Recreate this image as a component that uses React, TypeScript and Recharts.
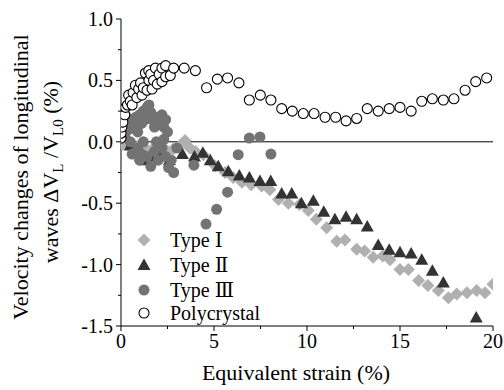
import React from 'react';
import { ScatterChart, Scatter, XAxis, YAxis, ReferenceLine } from 'recharts';

const typeI = [
  { x: 0.1, y: -0.02 }, { x: 0.3, y: 0.0 }, { x: 0.5, y: -0.03 }, { x: 0.7, y: -0.05 },
  { x: 0.9, y: -0.04 }, { x: 1.1, y: -0.06 }, { x: 1.3, y: -0.05 }, { x: 1.5, y: -0.08 },
  { x: 1.7, y: -0.06 }, { x: 1.9, y: -0.04 }, { x: 2.1, y: -0.07 }, { x: 2.3, y: -0.05 },
  { x: 2.5, y: -0.08 }, { x: 2.8, y: -0.06 }, { x: 3.1, y: -0.04 }, { x: 3.44, y: 0.01 },
  { x: 3.7, y: -0.05 }, { x: 4.0, y: -0.08 }, { x: 4.43, y: -0.105 }, { x: 5.05, y: -0.195 },
  { x: 5.6, y: -0.25 }, { x: 6.03, y: -0.29 }, { x: 6.5, y: -0.33 }, { x: 7.0, y: -0.35 },
  { x: 7.56, y: -0.36 }, { x: 8.0, y: -0.39 }, { x: 8.46, y: -0.47 }, { x: 9.0, y: -0.5 },
  { x: 9.6, y: -0.51 }, { x: 10.07, y: -0.56 }, { x: 10.5, y: -0.63 }, { x: 11.06, y: -0.7 },
  { x: 11.6, y: -0.81 }, { x: 12.04, y: -0.8 }, { x: 12.67, y: -0.875 }, { x: 13.1, y: -0.89 },
  { x: 13.56, y: -0.94 }, { x: 14.07, y: -0.93 }, { x: 14.46, y: -0.96 }, { x: 15.0, y: -1.04 },
  { x: 15.45, y: -1.04 }, { x: 16.0, y: -1.13 }, { x: 16.5, y: -1.17 }, { x: 17.06, y: -1.21 },
  { x: 17.6, y: -1.27 }, { x: 18.05, y: -1.24 }, { x: 18.6, y: -1.23 }, { x: 19.12, y: -1.21 },
  { x: 19.57, y: -1.23 }, { x: 20.0, y: -1.16 },
];

const typeII = [
  { x: 0.5, y: -0.03 }, { x: 1.0, y: -0.08 }, { x: 1.3, y: -0.15 }, { x: 1.6, y: -0.12 },
  { x: 2.0, y: -0.1 }, { x: 2.6, y: -0.15 }, { x: 3.3, y: -0.1 }, { x: 3.95, y: -0.12 },
  { x: 4.4, y: -0.09 }, { x: 4.8, y: -0.15 }, { x: 5.23, y: -0.2 }, { x: 5.77, y: -0.24 },
  { x: 6.36, y: -0.275 }, { x: 6.9, y: -0.29 }, { x: 7.47, y: -0.32 }, { x: 8.05, y: -0.32 },
  { x: 8.64, y: -0.42 }, { x: 9.18, y: -0.42 }, { x: 9.7, y: -0.5 }, { x: 10.34, y: -0.48 },
  { x: 10.9, y: -0.57 }, { x: 11.5, y: -0.63 }, { x: 12.1, y: -0.61 }, { x: 12.67, y: -0.63 },
  { x: 13.24, y: -0.69 }, { x: 13.83, y: -0.84 }, { x: 14.42, y: -0.88 }, { x: 15.0, y: -0.9 },
  { x: 15.6, y: -0.91 }, { x: 16.17, y: -0.96 }, { x: 16.74, y: -1.05 }, { x: 17.33, y: -1.145 },
  { x: 19.1, y: -1.43 },
];

const typeIII = [
  { x: 0.2, y: 0.15 }, { x: 0.2, y: 0.05 }, { x: 0.3, y: 0.2 }, { x: 0.4, y: 0.1 },
  { x: 0.5, y: 0.18 }, { x: 0.5, y: 0.0 }, { x: 0.7, y: 0.12 }, { x: 0.8, y: 0.2 },
  { x: 0.9, y: 0.08 }, { x: 1.0, y: 0.22 }, { x: 1.1, y: 0.15 }, { x: 1.2, y: 0.25 },
  { x: 1.3, y: 0.18 }, { x: 1.4, y: 0.28 }, { x: 1.5, y: 0.3 }, { x: 1.6, y: 0.24 },
  { x: 1.7, y: 0.18 }, { x: 1.8, y: 0.12 }, { x: 1.9, y: 0.2 }, { x: 2.0, y: 0.15 },
  { x: 2.2, y: 0.22 }, { x: 2.3, y: 0.12 }, { x: 2.4, y: 0.18 }, { x: 2.5, y: 0.08 },
  { x: 2.3, y: 0.02 }, { x: 1.9, y: 0.0 }, { x: 1.2, y: 0.0 }, { x: 0.9, y: -0.05 },
  { x: 1.1, y: -0.1 }, { x: 1.4, y: -0.12 }, { x: 1.8, y: -0.08 }, { x: 2.0, y: -0.15 },
  { x: 2.2, y: -0.05 }, { x: 2.4, y: -0.12 }, { x: 2.56, y: -0.21 }, { x: 2.7, y: -0.15 },
  { x: 2.83, y: -0.25 }, { x: 3.0, y: -0.05 }, { x: 0.6, y: -0.1 }, { x: 1.0, y: -0.15 },
  { x: 1.6, y: -0.2 }, { x: 3.92, y: -0.19 }, { x: 4.57, y: -0.67 }, { x: 5.14, y: -0.55 },
  { x: 5.73, y: -0.41 }, { x: 6.3, y: -0.105 }, { x: 6.9, y: 0.03 }, { x: 7.47, y: 0.04 },
  { x: 8.06, y: -0.1 },
];

const poly = [
  { x: 0.0, y: 0.03 }, { x: 0.0, y: 0.07 }, { x: 0.05, y: 0.12 }, { x: 0.1, y: 0.16 },
  { x: 0.2, y: 0.22 }, { x: 0.25, y: 0.28 }, { x: 0.35, y: 0.3 }, { x: 0.41, y: 0.38 },
  { x: 0.5, y: 0.33 }, { x: 0.6, y: 0.3 }, { x: 0.65, y: 0.4 }, { x: 0.77, y: 0.46 },
  { x: 0.85, y: 0.36 }, { x: 0.95, y: 0.43 }, { x: 1.05, y: 0.48 }, { x: 1.13, y: 0.38 },
  { x: 1.2, y: 0.44 }, { x: 1.31, y: 0.56 }, { x: 1.4, y: 0.42 }, { x: 1.5, y: 0.5 },
  { x: 1.49, y: 0.58 }, { x: 1.6, y: 0.55 }, { x: 1.67, y: 0.43 }, { x: 1.75, y: 0.5 },
  { x: 1.85, y: 0.6 }, { x: 1.95, y: 0.47 }, { x: 2.05, y: 0.55 }, { x: 2.2, y: 0.49 },
  { x: 2.2, y: 0.6 }, { x: 2.4, y: 0.62 }, { x: 2.4, y: 0.53 }, { x: 2.65, y: 0.54 },
  { x: 2.83, y: 0.6 }, { x: 3.4, y: 0.6 }, { x: 4.0, y: 0.58 }, { x: 4.6, y: 0.44 },
  { x: 5.18, y: 0.51 }, { x: 5.73, y: 0.52 }, { x: 6.34, y: 0.48 }, { x: 6.9, y: 0.34 },
  { x: 7.49, y: 0.38 }, { x: 8.06, y: 0.34 }, { x: 8.64, y: 0.27 }, { x: 9.21, y: 0.25 },
  { x: 9.8, y: 0.23 }, { x: 10.38, y: 0.23 }, { x: 10.97, y: 0.2 }, { x: 11.54, y: 0.2 },
  { x: 12.1, y: 0.17 }, { x: 12.67, y: 0.19 }, { x: 13.24, y: 0.27 }, { x: 13.83, y: 0.25 },
  { x: 14.42, y: 0.27 }, { x: 15.0, y: 0.28 }, { x: 15.6, y: 0.25 }, { x: 16.17, y: 0.33 },
  { x: 16.74, y: 0.35 }, { x: 17.33, y: 0.34 }, { x: 17.9, y: 0.35 }, { x: 18.5, y: 0.42 },
  { x: 19.07, y: 0.49 }, { x: 19.66, y: 0.52 },
];

const xTicks = [0, 2.5, 5, 7.5, 10, 12.5, 15, 17.5, 20];
const yTicks = [-1.5, -1.25, -1.0, -0.75, -0.5, -0.25, 0, 0.25, 0.5, 0.75, 1.0];
const legendNames = ['Type Ⅰ', 'Type Ⅱ', 'Type Ⅲ', 'Polycrystal'];

const FONT = "'Liberation Serif', 'DejaVu Serif', serif";
const TS: React.CSSProperties = { fontFamily: FONT };
const C1 = '#b0b0b0';
const C2 = '#333333';
const C3 = '#737373';

const Diamond = ({ cx, cy }: any) => (
  <path d={`M${cx},${cy - 6.5}L${cx + 6.5},${cy}L${cx},${cy + 6.5}L${cx - 6.5},${cy}Z`} fill={C1} />
);
const Tri = ({ cx, cy }: any) => (
  <path d={`M${cx},${cy - 6.5}L${cx + 6.5},${cy + 5}L${cx - 6.5},${cy + 5}Z`} fill={C2} />
);
const Dot = ({ cx, cy }: any) => <circle cx={cx} cy={cy} r={5.5} fill={C3} />;
const Open = ({ cx, cy }: any) => (
  <circle cx={cx} cy={cy} r={5} fill="#fff" stroke="#000" strokeWidth={1.1} />
);

const XTick = (p: any) => {
  const v = p.payload.value;
  const major = Math.abs(v % 5) < 1e-6;
  return (
    <g>
      <line x1={p.x} x2={p.x} y1={p.y} y2={p.y + (major ? 5 : 3)} stroke="#000" />
      {major && (
        <text x={p.x} y={p.y + 22} textAnchor="middle" fontSize={20} style={TS} fill="#000">
          {v}
        </text>
      )}
    </g>
  );
};

const YTick = (p: any) => {
  const v = p.payload.value;
  const major = Math.abs(v * 2 - Math.round(v * 2)) < 1e-6;
  return (
    <g>
      <line x1={p.x - (major ? 5 : 3)} x2={p.x} y1={p.y} y2={p.y} stroke="#000" />
      {major && (
        <text x={p.x - 8} y={p.y + 7} textAnchor="end" fontSize={20} style={TS} fill="#000">
          {v.toFixed(1)}
        </text>
      )}
    </g>
  );
};

const Legendish = () => {
  const rows = [240, 265, 290, 313];
  const syms = [Diamond, Tri, Dot, Open];
  return (
    <g>
      {legendNames.map((n, i) => {
        const S = syms[i];
        return (
          <g key={n}>
            <S cx={144} cy={rows[i]} />
            <text x={170} y={rows[i] + 7} fontSize={20} style={TS} fill="#000">
              {n}
            </text>
          </g>
        );
      })}
    </g>
  );
};

const YLabel = () => (
  <g fontSize={22} fill="#000">
    <text x={28} y={177} textAnchor="middle" transform="rotate(-90, 28, 177)" style={TS}>
      Velocity changes of longitudinal
    </text>
    <text x={58} y={172} textAnchor="middle" transform="rotate(-90, 58, 172)" style={TS}>
      <tspan>waves ΔV</tspan>
      <tspan dy={5} fontSize={15}>L</tspan>
      <tspan dy={-5}> /V</tspan>
      <tspan dy={5} fontSize={15}>L0</tspan>
      <tspan dy={-5}> (%)</tspan>
    </text>
  </g>
);

export default function App() {
  return (
    <div style={{ position: 'absolute', left: 0, top: 0, background: '#fff', fontFamily: FONT }}>
      <ScatterChart width={504} height={390} margin={{ top: 19, right: 11, left: 0, bottom: 0 }}>
        <XAxis
          type="number"
          dataKey="x"
          domain={[0, 20]}
          ticks={xTicks}
          interval={0}
          height={64}
          tickSize={0}
          tickMargin={0}
          tickLine={false}
          tick={<XTick />}
          axisLine={{ stroke: '#000' }}
          allowDataOverflow
        />
        <YAxis
          type="number"
          dataKey="y"
          domain={[-1.5, 1.0]}
          ticks={yTicks}
          interval={0}
          width={121}
          tickSize={0}
          tickMargin={0}
          tickLine={false}
          tick={<YTick />}
          axisLine={{ stroke: '#000' }}
          allowDataOverflow
        />
        <ReferenceLine y={0} stroke="#000" strokeWidth={1} />
        <Scatter data={typeI} shape={(p: any) => <Diamond cx={p.cx} cy={p.cy} />} isAnimationActive={false} />
        <Scatter data={typeII} shape={(p: any) => <Tri cx={p.cx} cy={p.cy} />} isAnimationActive={false} />
        <Scatter data={typeIII} shape={(p: any) => <Dot cx={p.cx} cy={p.cy} />} isAnimationActive={false} />
        <Scatter data={poly} shape={(p: any) => <Open cx={p.cx} cy={p.cy} />} isAnimationActive={false} />
        <Legendish />
        <YLabel />
        <text x={296} y={380} textAnchor="middle" fontSize={22} style={TS} fill="#000">
          Equivalent strain (%)
        </text>
      </ScatterChart>
    </div>
  );
}
